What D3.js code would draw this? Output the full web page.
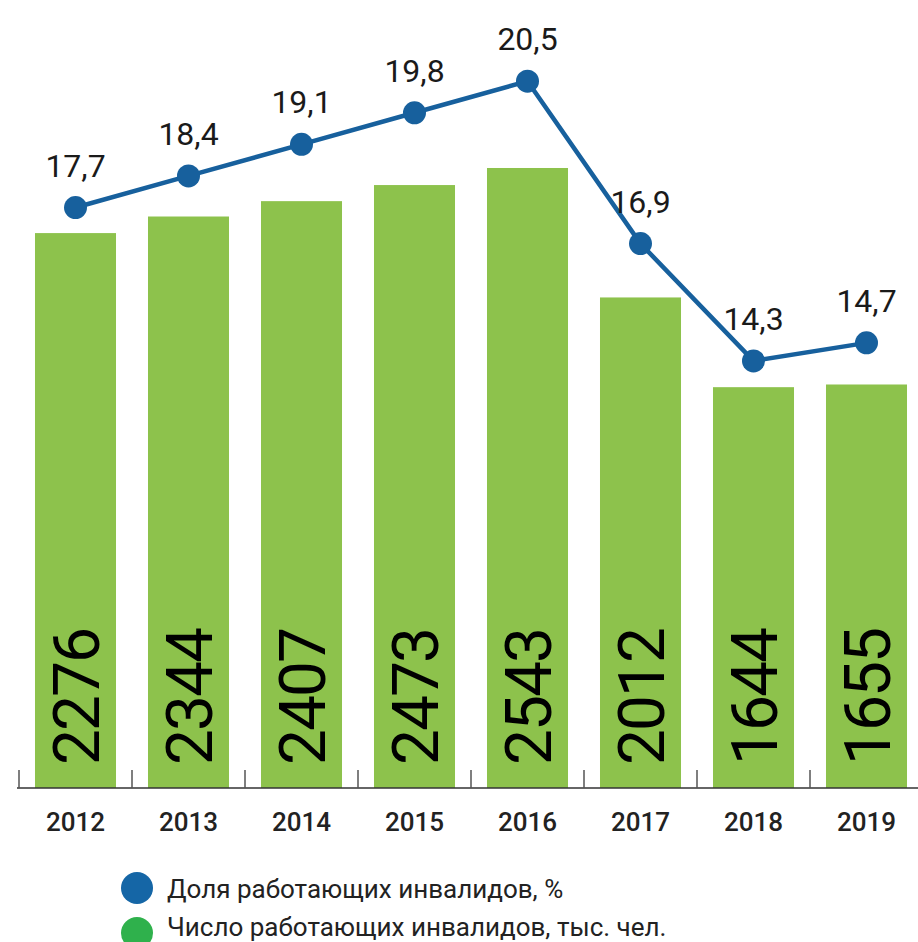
<!DOCTYPE html>
<html>
<head>
<meta charset="utf-8">
<script src="https://cdn.jsdelivr.net/npm/d3@7"></script>
<style>
  html, body { margin: 0; padding: 0; background: #fff; }
  svg { display: block; font-family: Roboto, "Noto Sans", sans-serif; }
</style>
</head>
<body>
<div id="chart"></div>
<script>
"use strict";

const years = ["2012", "2013", "2014", "2015", "2016", "2017", "2018", "2019"];
const workers = [2276, 2344, 2407, 2473, 2543, 2012, 1644, 1655];      // тыс. чел.
const share = [17.7, 18.4, 19.1, 19.8, 20.5, 16.9, 14.3, 14.7];        // %
const shareLabels = ["17,7", "18,4", "19,1", "19,8", "20,5", "16,9", "14,3", "14,7"];
const legendItems = ["Доля работающих инвалидов, %", "Число работающих инвалидов, тыс. чел."];

const W = 918, H = 942;
const C = { bar: "#8dc24c", line: "#17609d", legBlue: "#1566a6", legGreen: "#2fb14c", text: "#1a1a1a" };
const baseY = 788;

const svg = d3.select("#chart").append("svg").attr("width", W).attr("height", H);

// --- scales ---
const x = d3.scaleBand().domain(years).range([19, 923]).paddingInner(0.283).paddingOuter(0.1415);
const yBar = d3.scaleLinear().domain([0, 3232]).range([baseY, 0]);
const yLine = d3.scaleLinear().domain([0, 22.3]).range([1006, 0]);
const cx = d => x(d) + x.bandwidth() / 2;

// --- bars ---
svg.append("g").selectAll("rect")
    .data(years).enter().append("rect")
    .attr("x", d => x(d)).attr("width", x.bandwidth())
    .attr("y", (d, i) => yBar(workers[i]))
    .attr("height", (d, i) => baseY - yBar(workers[i]))
    .attr("fill", C.bar);

// vertical value labels inside bars
svg.append("g").selectAll("text")
    .data(years).enter().append("text")
    .attr("transform", d => `translate(${cx(d)},765) rotate(-90)`)
    .attr("dy", "0.36em")
    .attr("fill", "#000").style("font-size", "64px").style("letter-spacing", "-2px")
    .text((d, i) => workers[i]);

// --- axis ---
const axis = svg.append("g");
axis.append("line").attr("x1", 17).attr("x2", W).attr("y1", baseY).attr("y2", baseY)
    .attr("stroke", "#333").attr("stroke-width", 1.5);
axis.selectAll(".tick").data(years).enter().append("line")
    .attr("x1", d => x(d) - x.step() * x.paddingInner() / 2)
    .attr("x2", d => x(d) - x.step() * x.paddingInner() / 2)
    .attr("y1", baseY - 18).attr("y2", baseY)
    .attr("stroke", "#555").attr("stroke-width", 1.5);
axis.selectAll(".lbl").data(years).enter().append("text")
    .attr("x", cx).attr("y", 831).attr("text-anchor", "middle")
    .attr("fill", "#222").style("font-size", "26px").style("font-weight", 500)
    .text(d => d);

// --- line ---
const line = d3.line().x((d, i) => cx(years[i])).y(d => yLine(d));
svg.append("path").datum(share)
    .attr("d", line).attr("fill", "none")
    .attr("stroke", C.line).attr("stroke-width", 4.5).attr("stroke-linejoin", "round");

svg.append("g").selectAll("circle")
    .data(share).enter().append("circle")
    .attr("cx", (d, i) => cx(years[i])).attr("cy", d => yLine(d)).attr("r", 11.5)
    .attr("fill", C.line);

svg.append("g").selectAll("text")
    .data(share).enter().append("text")
    .attr("x", (d, i) => cx(years[i])).attr("y", d => yLine(d) - 31)
    .attr("text-anchor", "middle").attr("fill", C.text).style("font-size", "32px")
    .text((d, i) => shareLabels[i]);

// --- legend ---
const leg = svg.append("g").attr("transform", "translate(137,888)");
leg.selectAll("circle").data(legendItems).enter().append("circle")
    .attr("cx", 0).attr("cy", (d, i) => i * 45).attr("r", 16)
    .attr("fill", (d, i) => i === 0 ? C.legBlue : C.legGreen);
leg.selectAll("text").data(legendItems).enter().append("text")
    .attr("x", 30).attr("y", (d, i) => i === 0 ? 10 : 48)
    .attr("fill", "#222").style("font-size", "26px")
    .text(d => d);
</script>
</body>
</html>
